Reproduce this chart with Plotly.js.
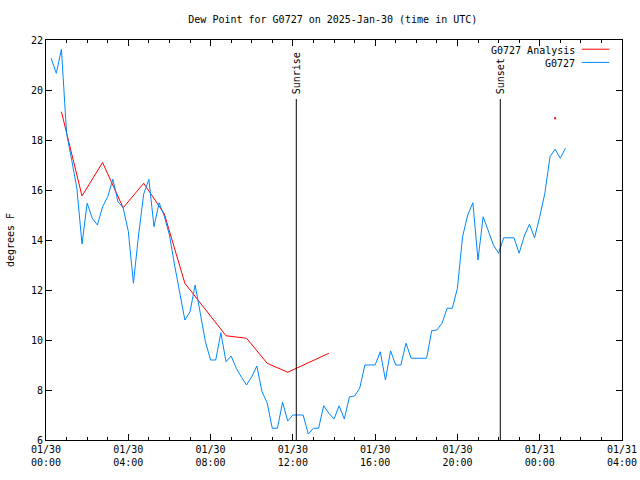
<!DOCTYPE html>
<html><head><meta charset="utf-8">
<script src="https://cdn.plot.ly/plotly-3.0.1.min.js"></script>
<style>html,body{margin:0;padding:0;background:#fff}</style>
</head><body><div id="chart" style="width:640px;height:480px"></div>
<script>
const stationName = 'G0727';
const chartTitle = 'Dew Point for G0727 on 2025-Jan-30 (time in UTC)';
const yTitle = 'degrees F';

const blueTimes = [
 '2025-01-30 00:15','2025-01-30 00:30','2025-01-30 00:45',
 '2025-01-30 01:00','2025-01-30 01:15','2025-01-30 01:30','2025-01-30 01:45',
 '2025-01-30 02:00','2025-01-30 02:15','2025-01-30 02:30','2025-01-30 02:45',
 '2025-01-30 03:00','2025-01-30 03:15','2025-01-30 03:30','2025-01-30 03:45',
 '2025-01-30 04:00','2025-01-30 04:15','2025-01-30 04:30','2025-01-30 04:45',
 '2025-01-30 05:00','2025-01-30 05:15','2025-01-30 05:30','2025-01-30 05:45',
 '2025-01-30 06:00','2025-01-30 06:15','2025-01-30 06:30','2025-01-30 06:45',
 '2025-01-30 07:00','2025-01-30 07:15','2025-01-30 07:30','2025-01-30 07:45',
 '2025-01-30 08:00','2025-01-30 08:15','2025-01-30 08:30','2025-01-30 08:45',
 '2025-01-30 09:00','2025-01-30 09:15','2025-01-30 09:30','2025-01-30 09:45',
 '2025-01-30 10:00','2025-01-30 10:15','2025-01-30 10:30','2025-01-30 10:45',
 '2025-01-30 11:00','2025-01-30 11:15','2025-01-30 11:30','2025-01-30 11:45',
 '2025-01-30 12:00','2025-01-30 12:15','2025-01-30 12:30','2025-01-30 12:45',
 '2025-01-30 13:00','2025-01-30 13:15','2025-01-30 13:30','2025-01-30 13:45',
 '2025-01-30 14:00','2025-01-30 14:15','2025-01-30 14:30','2025-01-30 14:45',
 '2025-01-30 15:00','2025-01-30 15:15','2025-01-30 15:30','2025-01-30 15:45',
 '2025-01-30 16:00','2025-01-30 16:15','2025-01-30 16:30','2025-01-30 16:45',
 '2025-01-30 17:00','2025-01-30 17:15','2025-01-30 17:30','2025-01-30 17:45',
 '2025-01-30 18:00','2025-01-30 18:15','2025-01-30 18:30','2025-01-30 18:45',
 '2025-01-30 19:00','2025-01-30 19:15','2025-01-30 19:30','2025-01-30 19:45',
 '2025-01-30 20:00','2025-01-30 20:15','2025-01-30 20:30','2025-01-30 20:45',
 '2025-01-30 21:00','2025-01-30 21:15','2025-01-30 21:30','2025-01-30 21:45',
 '2025-01-30 22:00','2025-01-30 22:15','2025-01-30 22:30','2025-01-30 22:45',
 '2025-01-30 23:00','2025-01-30 23:15','2025-01-30 23:30','2025-01-30 23:45',
 '2025-01-31 00:00','2025-01-31 00:15','2025-01-31 00:30','2025-01-31 00:45',
 '2025-01-31 01:00','2025-01-31 01:15'
];
const blueValues = [
 21.27, 20.67, 21.63,
 18.27, 17.2, 16.07, 13.84,
 15.47, 14.87, 14.6, 15.33,
 15.73, 16.43, 15.53, 15.29,
 14.35, 12.27, 14.2, 15.84,
 16.43, 14.53, 15.49, 14.95,
 14.2, 13.0, 11.93, 10.8,
 11.13, 12.2, 11.07, 9.93,
 9.2, 9.2, 10.29, 9.13,
 9.36, 8.87, 8.51, 8.2,
 8.53, 8.96, 7.93, 7.49,
 6.47, 6.47, 7.51, 6.76,
 7.0, 7.0, 7.0, 6.24,
 6.47, 6.47, 7.37, 7.07,
 6.84, 7.37, 6.84, 7.73,
 7.76, 8.07, 9.0, 9.0,
 9.0, 9.53, 8.4, 9.57,
 9.0, 9.0, 9.87, 9.27,
 9.27, 9.27, 9.27, 10.37,
 10.4, 10.67, 11.27, 11.27,
 12.07, 14.13, 15.0, 15.49,
 13.2, 14.93, 14.4, 13.8,
 13.47, 14.09, 14.09, 14.09,
 13.47, 14.16, 14.63, 14.09,
 14.93, 15.87, 17.33, 17.63,
 17.27, 17.67
];

const analysisTimes = [
 '2025-01-30 00:45','2025-01-30 01:45','2025-01-30 02:45','2025-01-30 03:45',
 '2025-01-30 04:45','2025-01-30 05:45','2025-01-30 06:45','2025-01-30 07:45',
 '2025-01-30 08:45','2025-01-30 09:45','2025-01-30 10:45','2025-01-30 11:45',
 '2025-01-30 12:45','2025-01-30 13:45'
];
const analysisValues = [
 19.13, 15.76, 17.1, 15.29,
 16.27, 15.05, 12.27, 11.23,
 10.17, 10.07, 9.07, 8.71,
 9.10, 9.47
];
const analysisLoneTimes = ['2025-01-31 00:45'];
const analysisLoneValues = [18.87];

const sunriseTime = '2025-01-30 12:10';
const sunsetTime = '2025-01-30 22:05';
const sunLineTop = 19.64;

const xRange = ['2025-01-30 00:00', '2025-01-31 04:00'];
const yRange = [6, 22];

const RED = '#ff0000';
const BLUE = 'rgb(0,136,255)';
const FONT = 'DejaVu Sans Mono, monospace';

const traces = [
  {x: analysisTimes, y: analysisValues, type: 'scatter', mode: 'lines',
   line: {color: RED, width: 1}, showlegend: false, hoverinfo: 'skip'},
  {x: analysisLoneTimes, y: analysisLoneValues, type: 'scatter', mode: 'markers',
   marker: {color: RED, size: 2, symbol: 'square', line: {width: 0}}, showlegend: false, hoverinfo: 'skip'},
  {x: blueTimes, y: blueValues, type: 'scatter', mode: 'lines',
   line: {color: BLUE, width: 1}, showlegend: false, hoverinfo: 'skip'}
];

const axisCommon = {
  showline: true, linecolor: '#000', linewidth: 1, mirror: 'ticks',
  ticks: 'inside', ticklen: 6, tickwidth: 1, tickcolor: '#000',
  showgrid: false, zeroline: false,
  tickfont: {family: FONT, size: 10, color: '#000'}
};

const layout = {
  width: 640, height: 480,
  margin: {l: 46, r: 18, t: 40, b: 40},
  paper_bgcolor: '#fff', plot_bgcolor: '#fff',
  font: {family: FONT, size: 10, color: '#000'},
  title: {text: chartTitle, font: {family: FONT, size: 10, color: '#000'},
          x: 0.52, xanchor: 'center', y: 0.96, yanchor: 'middle'},
  xaxis: Object.assign({}, axisCommon, {
    type: 'date', range: xRange, tick0: xRange[0], dtick: 4 * 3600000,
    tickformat: '%m/%d<br>%H:%M',
    minor: {dtick: 3600000, ticks: 'inside', ticklen: 3, tickcolor: '#000', showgrid: false}
  }),
  yaxis: Object.assign({}, axisCommon, {
    range: yRange, tick0: 0, dtick: 2,
    title: {text: yTitle, font: {family: FONT, size: 10, color: '#000'}, standoff: 14}
  }),
  shapes: [
    {type: 'line', xref: 'x', yref: 'y', x0: sunriseTime, x1: sunriseTime, y0: yRange[0], y1: sunLineTop,
     line: {color: '#000', width: 1}},
    {type: 'line', xref: 'x', yref: 'y', x0: sunsetTime, x1: sunsetTime, y0: yRange[0], y1: sunLineTop,
     line: {color: '#000', width: 1}},
    {type: 'line', xref: 'paper', yref: 'paper', x0: 0.930, x1: 0.978, y0: 0.977, y1: 0.977,
     line: {color: RED, width: 1}},
    {type: 'line', xref: 'paper', yref: 'paper', x0: 0.930, x1: 0.978, y0: 0.944, y1: 0.944,
     line: {color: BLUE, width: 1}}
  ],
  annotations: [
    {text: 'Sunrise', x: sunriseTime, y: sunLineTop, xref: 'x', yref: 'y', textangle: -90,
     xanchor: 'center', yanchor: 'bottom', yshift: 3, showarrow: false, font: {family: FONT, size: 10, color: '#000'}},
    {text: 'Sunset', x: sunsetTime, y: sunLineTop, xref: 'x', yref: 'y', textangle: -90,
     xanchor: 'center', yanchor: 'bottom', yshift: 3, showarrow: false, font: {family: FONT, size: 10, color: '#000'}},
    {text: stationName + ' Analysis', x: 0.922, y: 0.975, xref: 'paper', yref: 'paper',
     xanchor: 'right', yanchor: 'middle', showarrow: false, font: {family: FONT, size: 10, color: '#000'}},
    {text: stationName, x: 0.922, y: 0.942, xref: 'paper', yref: 'paper',
     xanchor: 'right', yanchor: 'middle', showarrow: false, font: {family: FONT, size: 10, color: '#000'}}
  ]
};

Plotly.newPlot('chart', traces, layout, {displayModeBar: false, staticPlot: true});
</script>
</body></html>
